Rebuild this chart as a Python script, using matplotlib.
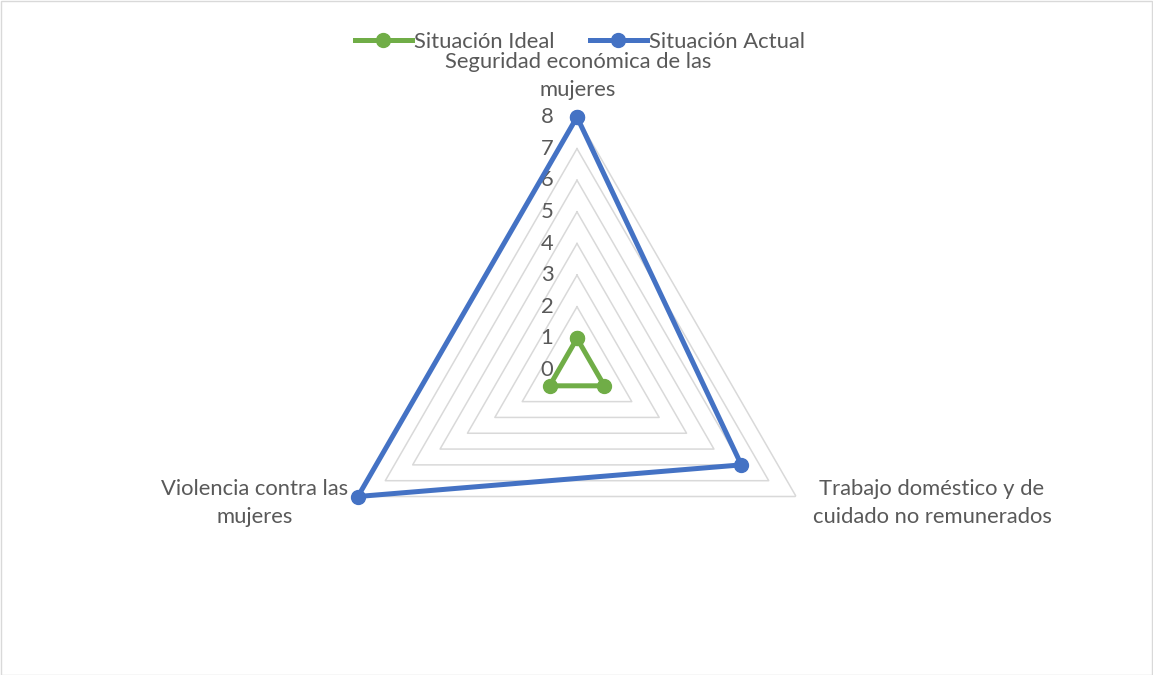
import numpy as np
import matplotlib.pyplot as plt
from matplotlib.patches import Rectangle

# data
categories = ["Seguridad económica de las\nmujeres",
              "Trabajo doméstico y de\ncuidado no remunerados",
              "Violencia contra las\nmujeres"]
ideal = [1, 1, 1]
actual = [8, 6, 8]
levels = [0, 1, 2, 3, 4, 5, 6, 7, 8]

plt.rcParams['font.family'] = ['Lato', 'DejaVu Sans']
txt = '#595959'
fs = 15.8

W, H = 1153, 675
fig = plt.figure(figsize=(W / 100, H / 100), dpi=100)
fig.patches.append(Rectangle((0.5 / W, 0.5 / H), 1 - 1.5 / W, 1 - 1.5 / H, transform=fig.transFigure,
                             fill=False, edgecolor='#d9d9d9', linewidth=1))

cx, cy, R = 577, 370, 253
ax = fig.add_axes([(cx - R) / W, (H - cy - R) / H, 2 * R / W, 2 * R / H], projection='polar')
ax.set_theta_offset(np.pi / 2)
ax.set_theta_direction(-1)
ax.set_ylim(0, 8)
ax.grid(False)
ax.spines['polar'].set_visible(False)
ax.set_xticks([])
ax.set_yticks([])
ax.patch.set_alpha(0)

angles = np.linspace(0, 2 * np.pi, len(categories), endpoint=False)
closed = np.append(angles, angles[0])

# polygon grid
for lv in levels[1:]:
    ax.plot(closed, [lv] * (len(angles) + 1), color='#d9d9d9', lw=1.1, zorder=1)

# tick labels
for lv in levels:
    ax.annotate(str(lv), xy=(0, lv), xytext=(-17, 0), textcoords='offset points',
                ha='right', va='center', fontsize=fs, color=txt)

ax.plot(closed, ideal + ideal[:1], color='#70ad47', lw=3.6, marker='o', ms=10,
        label='Situación Ideal', zorder=3, clip_on=False)
ax.plot(closed, actual + actual[:1], color='#4472c4', lw=3.6, marker='o', ms=10,
        label='Situación Actual', zorder=3, clip_on=False)

# category labels
fig.text(578 / W, 1 - 76 / H, categories[0], ha='center', va='center', fontsize=fs,
         color=txt, linespacing=1.45)
fig.text(932 / W, 1 - 503 / H, categories[1], ha='center', va='center', fontsize=fs,
         color=txt, linespacing=1.45)
fig.text(255 / W, 1 - 503 / H, categories[2], ha='center', va='center', fontsize=fs,
         color=txt, linespacing=1.45)

leg = fig.legend(loc='center', bbox_to_anchor=(580 / W, 1 - 42 / H), ncol=2, frameon=False,
                 fontsize=fs, handlelength=2.6, handletextpad=0.1, columnspacing=1.6,
                 borderpad=0)
for t in leg.get_texts():
    t.set_color(txt)

fig.savefig('out.png', dpi=100)
